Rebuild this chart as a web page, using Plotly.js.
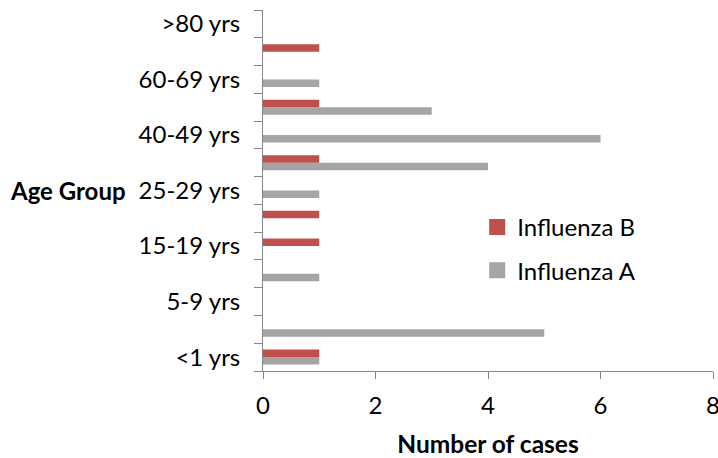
<!DOCTYPE html>
<html>
<head>
<meta charset="utf-8">
<script src="https://cdn.plot.ly/plotly-3.0.1.min.js"></script>
<style>html,body{margin:0;padding:0;background:#fff;}#chart{width:718px;height:458px;}</style>
</head>
<body>
<div id="chart"></div>
<script>
const ageGroups = ["<1 yrs","1-4 yrs","5-9 yrs","10-14 yrs","15-19 yrs","20-24 yrs","25-29 yrs","30-39 yrs","40-49 yrs","50-59 yrs","60-69 yrs","70-79 yrs",">80 yrs"];
const influenzaA = [1,5,0,1,0,0,1,4,6,3,1,0,0];
const influenzaB = [1,0,0,0,1,1,0,1,0,1,0,1,0];
const xTicks = [0,2,4,6,8];
const seriesNames = ["Influenza A","Influenza B"];
const seriesColors = ["#A5A5A5","#C0504D"];

const FONT = "Lato, 'Open Sans', sans-serif";
const tickText = ageGroups.map((g,i)=> i%2===0 ? g : "");

const traces = [
  {type:"bar", orientation:"h", name:seriesNames[0], y:ageGroups, x:influenzaA,
   marker:{color:seriesColors[0]}, showlegend:false},
  {type:"bar", orientation:"h", name:seriesNames[1], y:ageGroups, x:influenzaB,
   marker:{color:seriesColors[1]}, showlegend:false},
  // legend keys (square swatches like the reference)
  {type:"scatter", mode:"markers", name:seriesNames[1], x:[null], y:[null],
   marker:{symbol:"square", size:16, color:seriesColors[1]}, legendrank:1, legendgroup:"b"},
  {type:"scatter", mode:"markers", name:seriesNames[0], x:[null], y:[null],
   marker:{symbol:"square", size:16, color:seriesColors[0]}, legendrank:2, legendgroup:"a"}
];

const layout = {
  width:718, height:458,
  margin:{l:263, r:5, t:10, b:87},
  paper_bgcolor:"#fff", plot_bgcolor:"#fff",
  font:{family:FONT, size:24, color:"#000"},
  barmode:"group", bargap:0.46, bargroupgap:0,
  xaxis:{range:[0,8], tickvals:xTicks, ticks:"outside", ticklen:7, tickcolor:"#868686",
         showline:true, linecolor:"#868686", linewidth:1, showgrid:false, zeroline:false,
         ticklabelstandoff:6, ticklabeloverflow:"allow", tickfont:{size:24},
         title:{text:"<b>Number of cases</b>", font:{size:24.5}, standoff:23}},
  yaxis:{type:"category", categoryorder:"array", categoryarray:ageGroups,
         range:[-0.5, ageGroups.length-0.5], tickvals:ageGroups, ticktext:tickText,
         tickson:"boundaries", ticks:"outside", ticklen:8, tickcolor:"#868686",
         showline:true, linecolor:"#868686", linewidth:1, showgrid:false, zeroline:false,
         ticklabelstandoff:17, tickfont:{size:24}},
  showlegend:true,
  legend:{x:0.476, y:0.46, xanchor:"left", yanchor:"top", traceorder:"grouped",
          tracegroupgap:9, bgcolor:"rgba(0,0,0,0)", font:{size:24}, itemsizing:"trace"},
  annotations:[{text:"<b>Age Group</b>", xref:"paper", yref:"paper", x:(128-263)/450, y:(371-190)/361,
                xanchor:"right", yanchor:"middle", showarrow:false, font:{size:24}}]
};

Plotly.newPlot("chart", traces, layout, {displayModeBar:false, staticPlot:true});
</script>
</body>
</html>
